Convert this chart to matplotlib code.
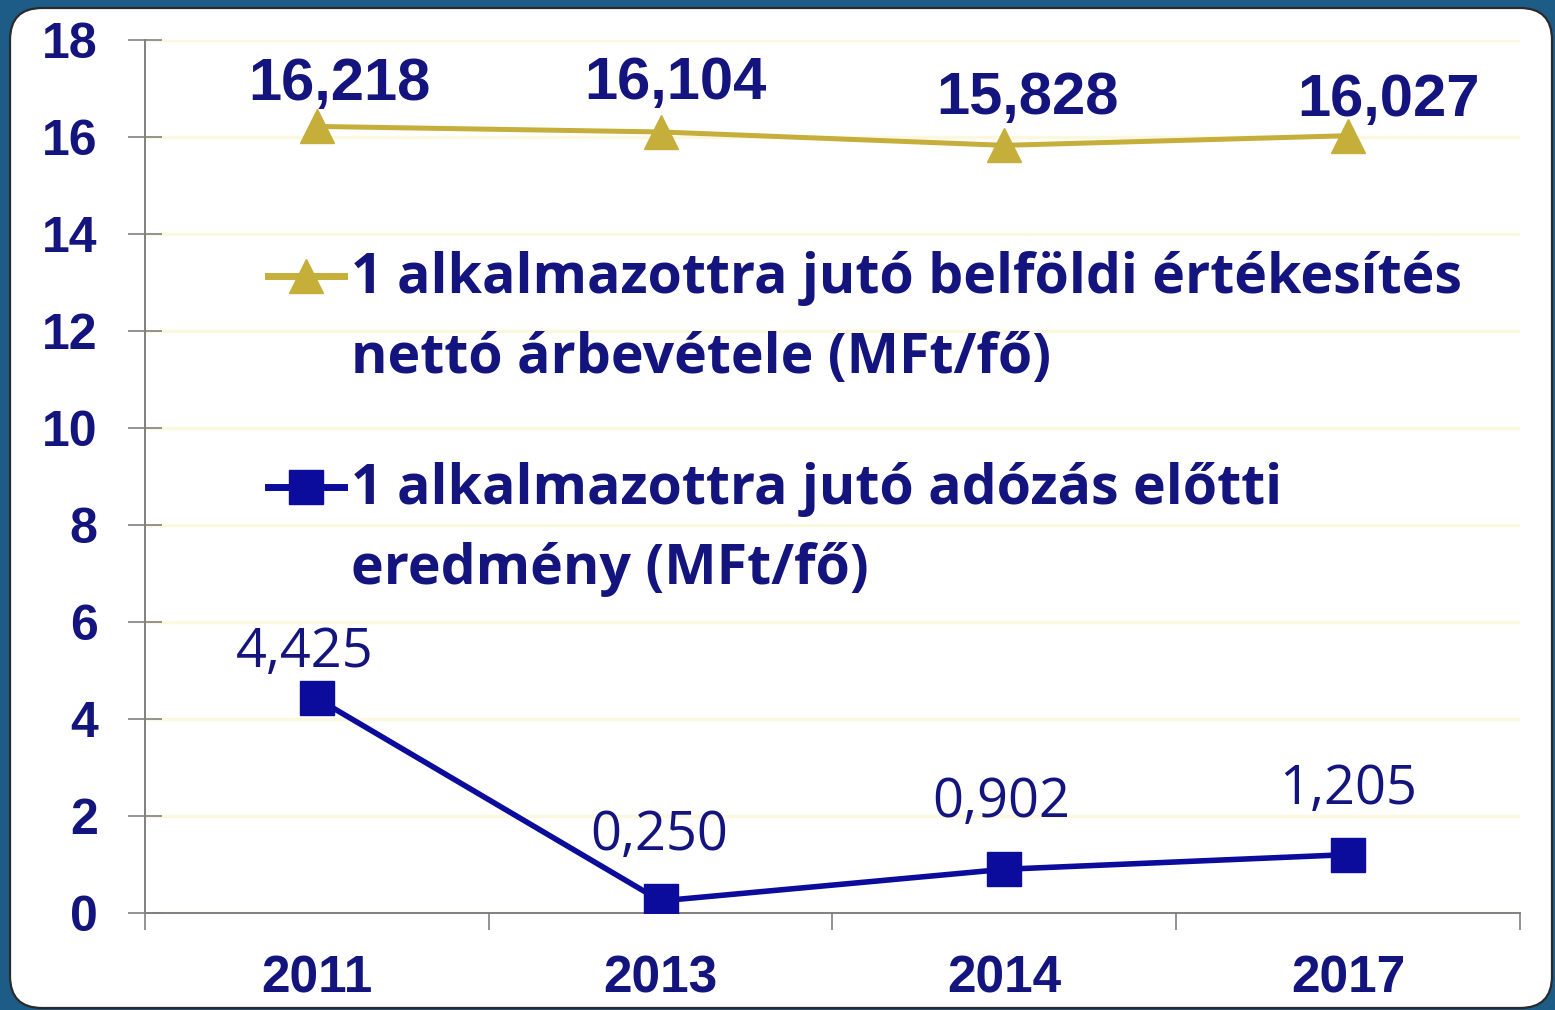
import numpy as np
import matplotlib
matplotlib.use("Agg")
import matplotlib.pyplot as plt
from matplotlib.patches import FancyBboxPatch
from matplotlib.legend_handler import HandlerLine2D


# data
years = ["2011", "2013", "2014", "2017"]
sales_per_emp = [16.218, 16.104, 15.828, 16.027]
profit_per_emp = [4.425, 0.250, 0.902, 1.205]
sales_label = "1 alkalmazottra jutó belföldi értékesítés\nnettó árbevétele (MFt/fő)"
profit_label = "1 alkalmazottra jutó adózás előtti\neredmény (MFt/fő)"
y_ticks = [0, 2, 4, 6, 8, 10, 12, 14, 16, 18]

# label offsets (points) for the value labels
sales_off = [(16, 30), (11, 35), (17, 34), (29, 25)]
profit_off = [(-9, 33), (-1, 47), (-2, 48), (0, 47)]

navy = "#14147f"
gold = "#c6ae3a"
mark_navy = "#0b0b9c"


class FirstLineHandler(HandlerLine2D):
    # put the legend key next to the first line of a two-line label
    def __init__(self, lift, **kw):
        super().__init__(**kw)
        self.lift = lift

    def create_artists(self, legend, orig_handle, xdescent, ydescent, width, height, fontsize, trans):
        arts = super().create_artists(legend, orig_handle, xdescent, ydescent, width, height, fontsize, trans)
        for a in arts:
            a.set_ydata(np.asarray(a.get_ydata()) + self.lift * fontsize)
        return arts


def fmt(v):
    return ("%.3f" % v).replace(".", ",")


fig = plt.figure(figsize=(15.55, 10.10), dpi=100, facecolor="#1e5c88")

panel = FancyBboxPatch((0.10, 0.02), 15.42, 10.0, boxstyle="round,pad=0,rounding_size=0.32",
                       transform=fig.dpi_scale_trans, facecolor="white", edgecolor="#2a2a2a",
                       linewidth=1.6, zorder=-5)
fig.patches.append(panel)

ax = fig.add_axes([0.0932, 0.096, 0.8843, 0.8644])
ax.set_facecolor("none")

x = np.arange(len(years))
ax.plot(x, sales_per_emp, color=gold, lw=3.6, marker="^", ms=24, label=sales_label, zorder=3)
ax.plot(x, profit_per_emp, color=mark_navy, lw=4, marker="s", ms=25, label=profit_label, zorder=3)

for i, v in enumerate(sales_per_emp):
    ax.annotate(fmt(v), (x[i], v), xytext=sales_off[i], textcoords="offset points",
                ha="center", va="center", fontsize=43, fontweight="bold",
                color=navy, family="Liberation Sans")
for i, v in enumerate(profit_per_emp):
    ax.annotate(fmt(v), (x[i], v), xytext=profit_off[i], textcoords="offset points",
                ha="center", va="center", fontsize=39, color=navy, family="Open Sans")

ax.set_xlim(-0.5, len(years) - 0.5)
ax.set_ylim(0, 18)
ax.set_yticks(y_ticks)
ax.set_xticks(x)
ax.set_xticklabels(years)
ax.set_xticks(np.arange(-0.5, len(years)), minor=True)

for lbl in ax.get_yticklabels() + ax.get_xticklabels():
    lbl.set_family("Liberation Sans")
    lbl.set_fontweight("bold")
    lbl.set_color(navy)

ax.tick_params(axis="y", direction="inout", length=24, width=1.2, color="#808080",
               labelsize=36, pad=22)
ax.tick_params(axis="x", which="major", length=0, labelsize=37, pad=30)
ax.tick_params(axis="x", which="minor", direction="out", length=12, width=1.2, color="#808080")

for s in ["top", "right"]:
    ax.spines[s].set_visible(False)
for s in ["left", "bottom"]:
    ax.spines[s].set_color("#808080")
    ax.spines[s].set_linewidth(1.4)

ax.yaxis.grid(True, color="#fcf8e0", lw=2.5)
ax.set_axisbelow(True)

leg = ax.legend(loc="upper left", bbox_to_anchor=(0.0895, 0.758), frameon=False,
                prop={"family": "Open Sans", "weight": "bold", "size": 40},
                handlelength=1.37, handletextpad=0.12, labelspacing=1.38, borderpad=0,
                borderaxespad=0,
                handler_map={plt.Line2D: FirstLineHandler(0.8, numpoints=1)})
for t in leg.get_texts():
    t.set_color(navy)
    t.set_linespacing(1.58)
for h in leg.legend_handles:
    h.set_markersize(24)
    h.set_linewidth(5)

fig.savefig("out.png", dpi=100, facecolor=fig.get_facecolor())
